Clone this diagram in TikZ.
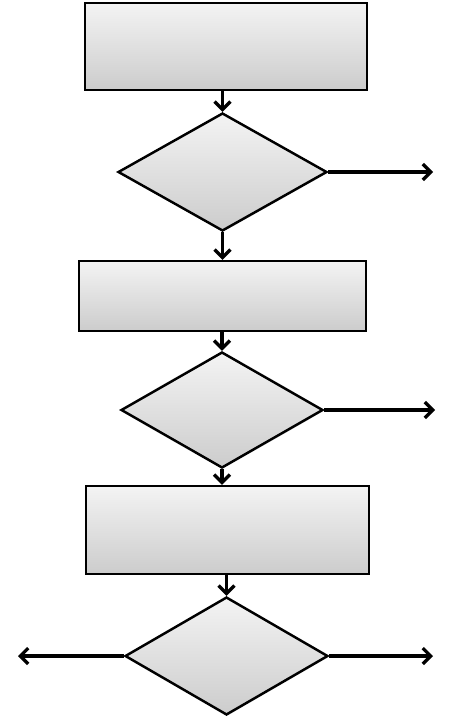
\documentclass[tikz,border=0pt]{standalone}
\usetikzlibrary{shapes.geometric,arrows.meta,shadows}

\tikzset{
  stepbox/.style={draw, rectangle, line width=1.4pt, inner sep=0pt,
    top color=gray!9, bottom color=gray!40,
    drop shadow={opacity=0.2, shadow xshift=0.6pt, shadow yshift=-0.6pt}},
  decide/.style={draw, diamond, line width=1.4pt, inner sep=0pt,
    top color=gray!9, bottom color=gray!40,
    drop shadow={opacity=0.2, shadow xshift=0.6pt, shadow yshift=-0.6pt}},
  flow/.style={line width=1.9pt, -{Straight Barb[length=4.5pt,width=9pt,line width=1.9pt]}}
}

\begin{document}
\begin{tikzpicture}
    \useasboundingbox (0, 0) rectangle (9.04, -14.46);

    \node[stepbox, minimum width=5.64cm, minimum height=1.74cm] (box1) at (4.52, -0.93) {};
    \node[decide, minimum width=4.18cm, minimum height=2.36cm] (dec1) at (4.45, -3.44) {};
    \node[stepbox, minimum width=5.74cm, minimum height=1.40cm] (box2) at (4.45, -5.92) {};
    \node[decide, minimum width=4.04cm, minimum height=2.32cm] (dec2) at (4.44, -8.20) {};
    \node[stepbox, minimum width=5.66cm, minimum height=1.76cm] (box3) at (4.55, -10.60) {};
    \node[decide, minimum width=4.06cm, minimum height=2.36cm] (dec3) at (4.53, -13.12) {};

    \coordinate (out1) at (8.66, -3.44);
    \coordinate (out2) at (8.70, -8.20);
    \coordinate (out3) at (8.66, -13.12);
    \coordinate (out4) at (0.36, -13.12);

    \draw[flow] (dec1.north |- box1.south) -- (dec1.north);
    \draw[flow] (dec1.south) -- (dec1.south |- box2.north);
    \draw[flow] (dec2.north |- box2.south) -- (dec2.north);
    \draw[flow] (dec2.south) -- (dec2.south |- box3.north);
    \draw[flow] (dec3.north |- box3.south) -- (dec3.north);

    \draw[flow] (dec1.east) -- (out1);
    \draw[flow] (dec2.east) -- (out2);
    \draw[flow] (dec3.east) -- (out3);
    \draw[flow] (dec3.west) -- (out4);
  \end{tikzpicture}
\end{document}
